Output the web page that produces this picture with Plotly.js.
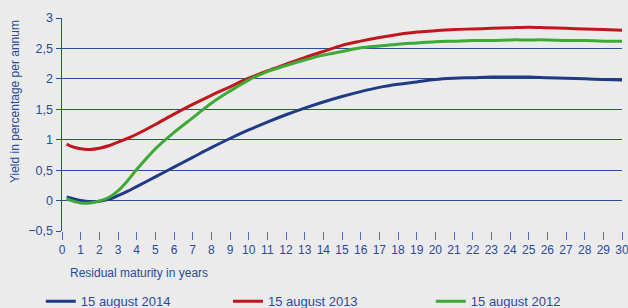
<!DOCTYPE html>
<html>
<head>
<meta charset="utf-8">
<script src="https://cdn.plot.ly/plotly-3.0.1.min.js"></script>
<style>html,body{margin:0;padding:0;background:#ebebeb;}#chart{width:628px;height:308px;}</style>
</head>
<body>
<div id="chart"></div>
<script>
const maturity = [0.25,0.5,1,1.5,2,2.5,3,3.5,4,5,6,7,8,9,10,11,12,13,14,15,16,17,18,19,20,21,22,23,24,25,26,27,28,29,30];
const yield2014 = [0.06,0.04,0.0,-0.02,-0.01,0.02,0.08,0.15,0.23,0.39,0.55,0.71,0.87,1.02,1.16,1.29,1.41,1.52,1.62,1.71,1.79,1.86,1.91,1.95,1.99,2.01,2.02,2.03,2.03,2.03,2.02,2.01,2.00,1.99,1.98];
const yield2013 = [0.93,0.89,0.85,0.84,0.86,0.90,0.96,1.02,1.09,1.25,1.42,1.58,1.73,1.87,2.01,2.13,2.24,2.35,2.45,2.55,2.62,2.68,2.73,2.77,2.79,2.81,2.82,2.83,2.84,2.85,2.84,2.83,2.82,2.81,2.80];
const yield2012 = [0.03,0.0,-0.04,-0.04,-0.01,0.05,0.16,0.32,0.51,0.85,1.12,1.36,1.60,1.80,1.98,2.12,2.22,2.31,2.39,2.45,2.51,2.54,2.57,2.59,2.61,2.62,2.63,2.63,2.64,2.64,2.64,2.63,2.63,2.62,2.62];
const seriesNames = ["15 august 2014","15 august 2013","15 august 2012"];
const seriesColors = ["#1f3b87","#c0171d","#3daa35"];
const xTicks = Array.from({length:31},(_,i)=>i);
const yTicks = [-0.5,0,0.5,1,1.5,2,2.5,3];

const textColor = "#2a4a9c";
const fam = "Liberation Sans, Arial, sans-serif";
const legendIds = ["legend","legend2","legend3"];
const legendX = [0.065, 0.363, 0.686];

const data = [yield2014, yield2013, yield2012].map((ys,i)=>({
  x: maturity, y: ys, type:"scatter", mode:"lines", name: seriesNames[i], legend: legendIds[i],
  line:{color:seriesColors[i], width:3, shape:"spline", smoothing:1}
}));

const layout = {
  width:628, height:308,
  paper_bgcolor:"#ebebeb", plot_bgcolor:"#ebebeb",
  separators:", ",
  font:{family:fam, size:12, color:textColor},
  margin:{l:62, r:6, t:18, b:77, autoexpand:false},
  xaxis:{range:[0,30], tickvals:xTicks, ticktext:xTicks.map(String), showgrid:false, zeroline:false,
    ticks:"outside", ticklen:8, tickcolor:"#5070b8", tickwidth:1, showline:false,
    ticklabeloverflow:"allow",
    tickfont:{family:fam, size:12, color:textColor}, fixedrange:true},
  yaxis:{range:[-0.5,3], tickvals:yTicks, showgrid:true, gridcolor:"#2b4b9b", gridwidth:1,
    zeroline:true, zerolinecolor:"#2b4b9b", zerolinewidth:1,
    showline:true, linecolor:"#2b4b9b", linewidth:1.5, ticks:"outside", ticklen:5, tickcolor:"#2b4b9b",
    tickfont:{family:fam, size:12.5, color:textColor}},
  showlegend:true,
  annotations:[
    {xref:"paper", yref:"paper", x:0.01, y:-0.155, xanchor:"left", yanchor:"top", showarrow:false,
     text:"Residual maturity in years", font:{family:fam, size:12, color:textColor}},
    {xref:"paper", yref:"paper", x:-0.084, y:0.61, xanchor:"center", yanchor:"middle", textangle:-90, showarrow:false,
     text:"Yield in percentage per annum", font:{family:fam, size:12, color:textColor}}
  ]
};
legendIds.forEach((id,i)=>{
  layout[id] = {orientation:"h", xref:"container", yref:"paper", x:legendX[i], y:-0.33,
    xanchor:"left", yanchor:"middle", font:{family:fam, size:13, color:textColor}, bgcolor:"rgba(0,0,0,0)"};
});
Plotly.newPlot("chart", data, layout, {staticPlot:true, displayModeBar:false});
</script>
</body>
</html>
